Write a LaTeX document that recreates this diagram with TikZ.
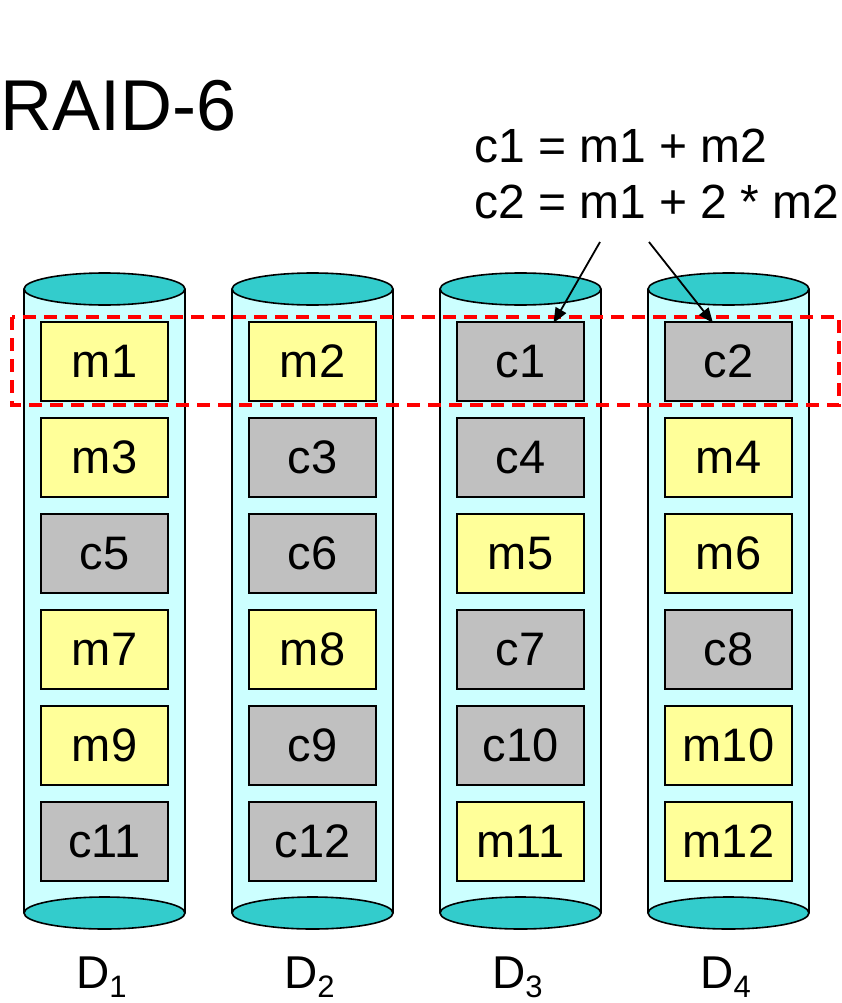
\documentclass[tikz,border=0pt]{standalone}
\usepackage{fontspec}
\setmainfont{Liberation Sans}
\usetikzlibrary{arrows.meta}

\definecolor{bodycyan}{HTML}{CCFFFF}
\definecolor{capteal}{HTML}{33CCCC}
\definecolor{msgyellow}{HTML}{FFFF99}
\definecolor{chkgray}{HTML}{C0C0C0}
\definecolor{stripered}{HTML}{FF0000}

\tikzset{
  block/.style={draw=black, line width=2pt, minimum width=127pt, minimum height=79pt,
    inner sep=0pt, font=\fontsize{47}{47}\selectfont},
  msg/.style={block, fill=msgyellow},
  chk/.style={block, fill=chkgray},
  diskbody/.style={fill=bodycyan},
  diskedge/.style={draw=black, line width=1.6pt},
  diskcap/.style={fill=capteal, draw=black, line width=1.6pt},
  stripe/.style={draw=stripered, line width=3.5pt, dash pattern=on 13pt off 8pt},
  pointer/.style={draw=black, line width=1.8pt, -{Triangle[length=15pt,width=12pt]}},
  eqtext/.style={anchor=base west, inner sep=0pt, font=\fontsize{48}{48}\selectfont},
  disklabel/.style={anchor=base, inner sep=0pt, font=\fontsize{46}{46}\selectfont}
}

\newcommand{\disksub}[1]{D\raisebox{-9pt}{\fontsize{31}{31}\selectfont #1}}

\begin{document}
\begin{tikzpicture}[x=1pt, y=-1pt]
  \useasboundingbox (0,0) rectangle (842,1003);

  % four disk cylinders
  \foreach \i/\cx in {1/104.5, 2/312.5, 3/520.5, 4/728.5} {
    \fill[diskbody] (\cx-80.5,289) rectangle (\cx+80.5,913);
    \draw[diskedge] (\cx-80.5,289) -- (\cx-80.5,913);
    \draw[diskedge] (\cx+80.5,289) -- (\cx+80.5,913);
    \draw[diskcap] (\cx,913) ellipse [x radius=80.5, y radius=16];
    \draw[diskcap] (\cx,289) ellipse [x radius=80.5, y radius=16];
    \node[disklabel] (D\i) at (\cx-3,988) {\disksub{\i}};
  }

  % D1 blocks
  \node[msg] (m1)  at (104.5,361.5) {m1};
  \node[msg] (m3)  at (104.5,457.5) {m3};
  \node[chk] (c5)  at (104.5,553.5) {c5};
  \node[msg] (m7)  at (104.5,649.5) {m7};
  \node[msg] (m9)  at (104.5,745.5) {m9};
  \node[chk] (c11) at (104.5,841.5) {c11};
  % D2 blocks
  \node[msg] (m2)  at (312.5,361.5) {m2};
  \node[chk] (c3)  at (312.5,457.5) {c3};
  \node[chk] (c6)  at (312.5,553.5) {c6};
  \node[msg] (m8)  at (312.5,649.5) {m8};
  \node[chk] (c9)  at (312.5,745.5) {c9};
  \node[chk] (c12) at (312.5,841.5) {c12};
  % D3 blocks
  \node[chk] (c1)  at (520.5,361.5) {c1};
  \node[chk] (c4)  at (520.5,457.5) {c4};
  \node[msg] (m5)  at (520.5,553.5) {m5};
  \node[chk] (c7)  at (520.5,649.5) {c7};
  \node[chk] (c10) at (520.5,745.5) {c10};
  \node[msg] (m11) at (520.5,841.5) {m11};
  % D4 blocks
  \node[chk] (c2)  at (728.5,361.5) {c2};
  \node[msg] (m4)  at (728.5,457.5) {m4};
  \node[msg] (m6)  at (728.5,553.5) {m6};
  \node[chk] (c8)  at (728.5,649.5) {c8};
  \node[msg] (m10) at (728.5,745.5) {m10};
  \node[msg] (m12) at (728.5,841.5) {m12};

  % first stripe
  \draw[stripe] (12,317) rectangle (839,405);

  % title and parity equations
  \node[anchor=base west, inner sep=0pt, font=\fontsize{72}{72}\selectfont] (title) at (0,131) {RAID-6};
  \node[eqtext] (eq1) at (474,163) {c1 = m1 + m2};
  \node[eqtext] (eq2) at (474,218) {c2 = m1 + 2 * m2};

  \coordinate (p1) at (600,242);
  \coordinate (p2) at (649,242);
  \draw[pointer] (p1) -- ([xshift=33pt, yshift=-2pt]c1.north);
  \draw[pointer] (p2) -- ([xshift=-15.5pt, yshift=-2pt]c2.north);
\end{tikzpicture}
\end{document}
